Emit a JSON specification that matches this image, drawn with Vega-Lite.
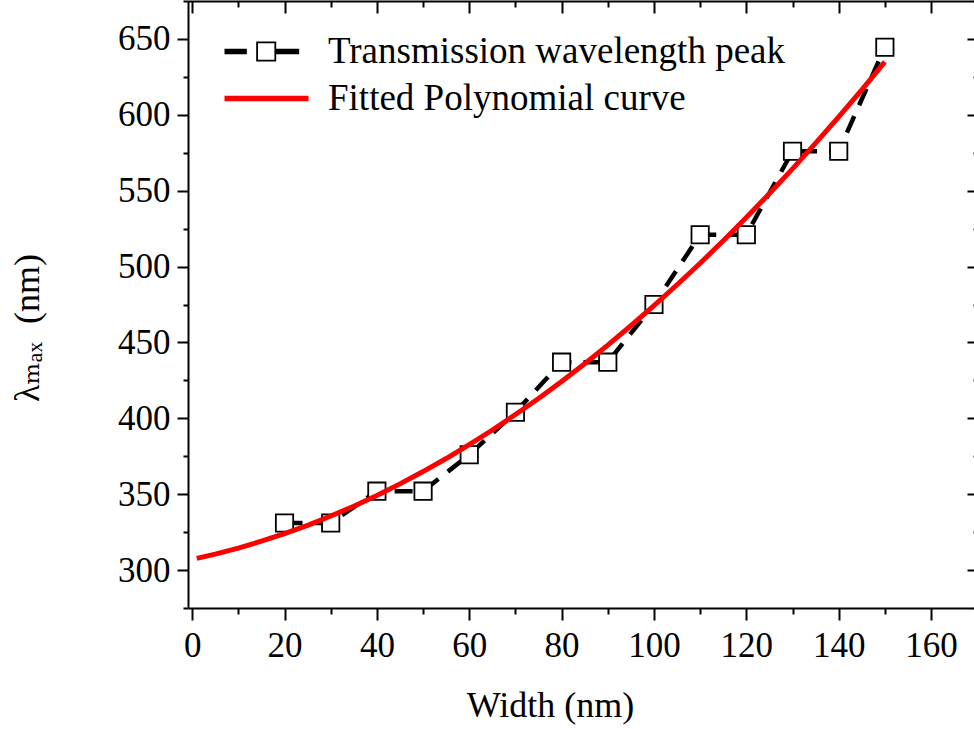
{
  "$schema": "https://vega.github.io/schema/vega-lite/v6.json",
  "width": 786,
  "height": 607,
  "autosize": {"type": "none"},
  "padding": {"left": 188, "top": 1, "right": 0, "bottom": 121},
  "background": "white",
  "config": {
    "view": {"stroke": null},
    "axis": {
      "domainColor": "black",
      "domainWidth": 2,
      "tickColor": "black",
      "tickWidth": 2,
      "labelFont": "Liberation Serif",
      "labelFontSize": 35,
      "labelColor": "black",
      "titleFont": "Liberation Serif, DejaVu Serif",
      "titleFontSize": 36,
      "titleFontWeight": "normal",
      "titleColor": "black",
      "grid": false,
      "labelFlush": false,
      "labelOverlap": false,
      "labelBound": false
    }
  },
  "datasets": {
    "measured": [
      {"width": 20, "lambda": 331, "series": "Transmission wavelength peak"},
      {"width": 30, "lambda": 331, "series": "Transmission wavelength peak"},
      {"width": 40, "lambda": 352, "series": "Transmission wavelength peak"},
      {"width": 50, "lambda": 352, "series": "Transmission wavelength peak"},
      {"width": 60, "lambda": 376, "series": "Transmission wavelength peak"},
      {"width": 70, "lambda": 404, "series": "Transmission wavelength peak"},
      {"width": 80, "lambda": 437, "series": "Transmission wavelength peak"},
      {"width": 90, "lambda": 437, "series": "Transmission wavelength peak"},
      {"width": 100, "lambda": 475, "series": "Transmission wavelength peak"},
      {"width": 110, "lambda": 521, "series": "Transmission wavelength peak"},
      {"width": 120, "lambda": 521, "series": "Transmission wavelength peak"},
      {"width": 130, "lambda": 576, "series": "Transmission wavelength peak"},
      {"width": 140, "lambda": 576, "series": "Transmission wavelength peak"},
      {"width": 150, "lambda": 644.5, "series": "Transmission wavelength peak"}
    ],
    "fit": [
      {"width": 1, "lambda": 307.7, "series": "Fitted Polynomial curve"},
      {"width": 5, "lambda": 310.5, "series": "Fitted Polynomial curve"},
      {"width": 10, "lambda": 314.5, "series": "Fitted Polynomial curve"},
      {"width": 15, "lambda": 319.0, "series": "Fitted Polynomial curve"},
      {"width": 20, "lambda": 324.0, "series": "Fitted Polynomial curve"},
      {"width": 25, "lambda": 329.5, "series": "Fitted Polynomial curve"},
      {"width": 30, "lambda": 335.6, "series": "Fitted Polynomial curve"},
      {"width": 35, "lambda": 342.1, "series": "Fitted Polynomial curve"},
      {"width": 40, "lambda": 349.2, "series": "Fitted Polynomial curve"},
      {"width": 45, "lambda": 356.8, "series": "Fitted Polynomial curve"},
      {"width": 50, "lambda": 364.9, "series": "Fitted Polynomial curve"},
      {"width": 55, "lambda": 373.5, "series": "Fitted Polynomial curve"},
      {"width": 60, "lambda": 382.7, "series": "Fitted Polynomial curve"},
      {"width": 65, "lambda": 392.3, "series": "Fitted Polynomial curve"},
      {"width": 70, "lambda": 402.5, "series": "Fitted Polynomial curve"},
      {"width": 75, "lambda": 413.1, "series": "Fitted Polynomial curve"},
      {"width": 80, "lambda": 424.3, "series": "Fitted Polynomial curve"},
      {"width": 85, "lambda": 436.0, "series": "Fitted Polynomial curve"},
      {"width": 90, "lambda": 448.2, "series": "Fitted Polynomial curve"},
      {"width": 95, "lambda": 461.0, "series": "Fitted Polynomial curve"},
      {"width": 100, "lambda": 474.2, "series": "Fitted Polynomial curve"},
      {"width": 105, "lambda": 488.0, "series": "Fitted Polynomial curve"},
      {"width": 110, "lambda": 502.2, "series": "Fitted Polynomial curve"},
      {"width": 115, "lambda": 517.0, "series": "Fitted Polynomial curve"},
      {"width": 120, "lambda": 532.3, "series": "Fitted Polynomial curve"},
      {"width": 125, "lambda": 548.1, "series": "Fitted Polynomial curve"},
      {"width": 130, "lambda": 564.4, "series": "Fitted Polynomial curve"},
      {"width": 135, "lambda": 581.3, "series": "Fitted Polynomial curve"},
      {"width": 140, "lambda": 598.7, "series": "Fitted Polynomial curve"},
      {"width": 145, "lambda": 616.5, "series": "Fitted Polynomial curve"},
      {"width": 150, "lambda": 634.9, "series": "Fitted Polynomial curve"}
    ]
  },
  "layer": [
    {
      "data": {"name": "measured"},
      "mark": {"type": "line", "strokeWidth": 4.5, "strokeDash": [18, 12]},
      "encoding": {
        "x": {
          "field": "width", "type": "quantitative",
          "scale": {"domain": [-0.9, 169.3], "nice": false, "zero": false},
          "axis": {
            "orient": "bottom",
            "values": [0, 10, 20, 30, 40, 50, 60, 70, 80, 90, 100, 110, 120, 130, 140, 150, 160],
            "labelExpr": "datum.value % 20 === 0 ? datum.label : ''",
            "tickSize": {"condition": {"test": "datum.value % 20 === 0", "value": 12}, "value": 6},
            "labelPadding": 8,
            "title": "Width (nm)",
            "titleX": 362,
            "titleY": 108.7,
            "titleBaseline": "alphabetic",
            "titleAlign": "center",
            "titleAngle": 0
          }
        },
        "y": {
          "field": "lambda", "type": "quantitative",
          "scale": {"domain": [275, 675], "nice": false, "zero": false},
          "axis": {
            "orient": "left",
            "values": [275, 300, 325, 350, 375, 400, 425, 450, 475, 500, 525, 550, 575, 600, 625, 650, 675],
            "labelExpr": "datum.value % 50 === 0 ? datum.label : ''",
            "tickSize": {"condition": {"test": "datum.value % 50 === 0", "value": 11}, "value": 5},
            "labelPadding": 7,
            "title": "λₘₐₓ\u00a0\u00a0(nm)",
            "titleAngle": 270,
            "titleX": -149.5,
            "titleY": 326.5,
            "titleBaseline": "alphabetic",
            "titleAlign": "center"
          }
        },
        "color": {
          "field": "series", "type": "nominal",
          "scale": {"domain": ["Transmission wavelength peak", "Fitted Polynomial curve"], "range": ["#000000", "#ff0000"]},
          "legend": {
            "orient": "none",
            "legendX": 18,
            "legendY": 32,
            "title": null,
            "padding": 0,
            "symbolSize": 400,
            "symbolStrokeWidth": 0,
            "labelFont": "Liberation Serif",
            "labelFontSize": 37,
            "labelColor": "black",
            "labelOffset": 85,
            "labelLimit": 1000,
            "rowPadding": 9,
            "encode": {
              "symbols": {
                "update": {
                  "shape": [{"test": "datum.value === 'Fitted Polynomial curve'", "value": "M0,-0.28H8.4V0.28H0Z"}, {"value": "M0,-0.28H2.23V0.28H0Z M3.17,-1H5.17V1H3.17Z M3.35,-0.82V0.82H4.99V-0.82Z M5.17,-0.28H7.47V0.28H5.17Z"}],
                  "fill": [{"test": "datum.value === 'Fitted Polynomial curve'", "value": "#ff0000"}, {"value": "#000000"}],
                  "fillOpacity": {"value": 1},
                  "stroke": {"value": "transparent"},
                  "strokeWidth": {"value": 0},
                  "size": {"value": 400},
                  "opacity": {"value": 1}
                }
              }
            }
          }
        }
      }
    },
    {
      "data": {"name": "measured"},
      "mark": {"type": "point", "shape": "square", "filled": true, "fill": "white", "stroke": "black", "strokeWidth": 1.8, "size": 300, "opacity": 1},
      "encoding": {
        "x": {"field": "width", "type": "quantitative", "axis": null},
        "y": {"field": "lambda", "type": "quantitative", "axis": null}
      }
    },
    {
      "data": {"name": "fit"},
      "mark": {"type": "line", "strokeWidth": 5},
      "encoding": {
        "x": {
          "field": "width", "type": "quantitative",
          "axis": {
            "orient": "top",
            "values": [0, 10, 20, 30, 40, 50, 60, 70, 80, 90, 100, 110, 120, 130, 140, 150, 160],
            "labels": false,
            "tickSize": {"condition": {"test": "datum.value % 20 === 0", "value": -12}, "value": -6},
            "title": null
          }
        },
        "y": {
          "field": "lambda", "type": "quantitative",
          "axis": {
            "orient": "right",
            "offset": 4,
            "values": [275, 300, 325, 350, 375, 400, 425, 450, 475, 500, 525, 550, 575, 600, 625, 650, 675],
            "labels": false,
            "tickSize": {"condition": {"test": "datum.value % 50 === 0", "value": -11}, "value": -5},
            "title": null
          }
        },
        "color": {
          "field": "series", "type": "nominal",
          "scale": {"domain": ["Transmission wavelength peak", "Fitted Polynomial curve"], "range": ["#000000", "#ff0000"]}
        }
      }
    }
  ],
  "resolve": {"axis": {"x": "independent", "y": "independent"}}
}
